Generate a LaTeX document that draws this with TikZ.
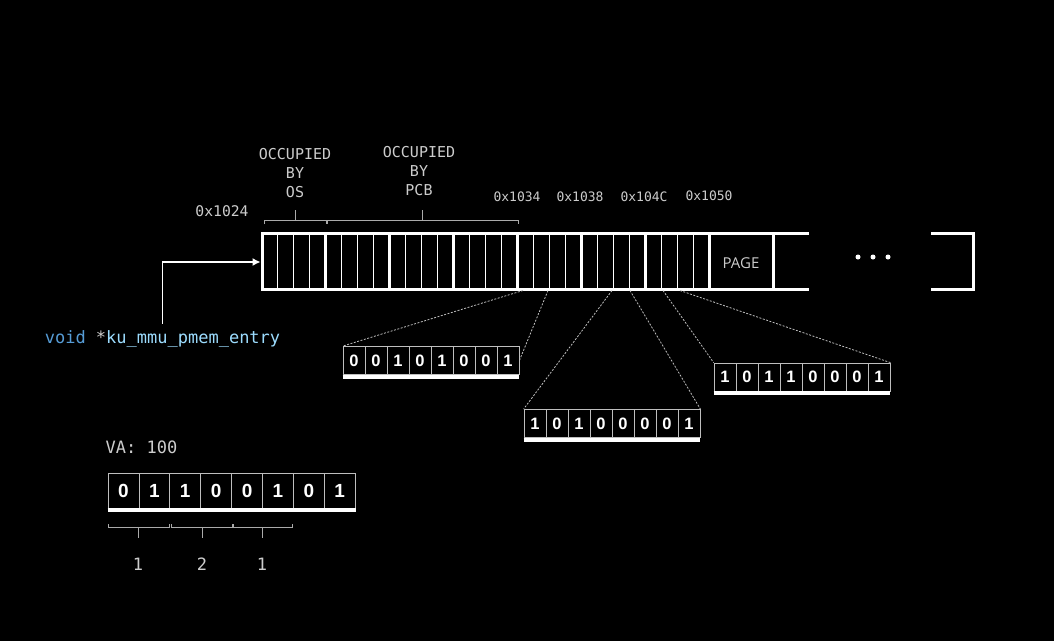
\documentclass[tikz,border=0pt]{standalone}
\usepackage{fontspec}
\setmainfont{DejaVu Sans}
\setmonofont{DejaVu Sans Mono}
\setsansfont{Liberation Sans}
\newfontfamily\pagefont{Open Sans}
\usetikzlibrary{arrows.meta}
\definecolor{labelgray}{RGB}{204,204,204}
\definecolor{kwblue}{RGB}{86,156,214}
\definecolor{varblue}{RGB}{156,220,254}
\definecolor{cellgray}{RGB}{190,190,190}
\definecolor{bracegray}{RGB}{170,170,170}

\begin{document}
\begin{tikzpicture}[x=1pt,y=-1pt,
  addr/.style={text=labelgray,inner sep=0pt,font=\fontsize{13}{15}\selectfont\ttfamily},
  occ/.style={text=labelgray,inner sep=0pt,align=center,font=\fontsize{15}{19}\selectfont\ttfamily},
  bitcell/.style={draw=cellgray,line width=0.8pt,minimum width=22pt,minimum height=28pt,inner sep=0pt,text=white,font=\fontsize{16.5}{18}\selectfont\sffamily\bfseries},
  vacell/.style={bitcell,minimum width=30.9pt,minimum height=35pt,font=\fontsize{19}{21}\selectfont\sffamily\bfseries},
  underline/.style={white,line width=4pt},
  memline/.style={white,line width=3pt},
  cellline/.style={white,line width=1pt},
  zoomline/.style={dashed,dash pattern=on 2pt off 1.5pt,draw=cellgray,line width=0.8pt},
  bracket/.style={draw=bracegray,line width=0.9pt}]
 \fill[black] (0,0) rectangle (1054,641);
 % memory strip
 \draw[memline] (809,233) -- (262,233) -- (262,289) -- (809,289);
 \foreach \g in {1,...,8}
  \draw[memline] ({262+63.9*\g},233) -- ({262+63.9*\g},289);
 \foreach \g in {0,...,6}
  \foreach \c in {1,2,3}
   \draw[cellline] ({262+63.9*\g+15.975*\c},234) -- ({262+63.9*\g+15.975*\c},288);
 \draw[memline] (931,233) -- (973,233) -- (973,289) -- (931,289);
 \foreach \x in {858,873,888}
  \fill[white] (\x,257) circle (2.5pt);
 \node[text=labelgray,font=\fontsize{15}{18}\selectfont\pagefont] (page) at (741,263) {PAGE};
 % labels above
 \node[occ] (os) at (295,173) {OCCUPIED\\BY\\OS};
 \node[occ] (pcb) at (419,171) {OCCUPIED\\BY\\PCB};
 \draw[bracket] (264,224) -- (264,220) -- (326,220) -- (326,224) (295,220) -- (295,210);
 \draw[bracket] (327,224) -- (327,220) -- (518,220) -- (518,224) (422,220) -- (422,210);
 \node[addr,font=\fontsize{14.7}{17}\selectfont\ttfamily] (a1024) at (222,211) {0x1024};
 \node[addr] (a1034) at (517,197) {0x1034};
 \node[addr] (a1038) at (580,197) {0x1038};
 \node[addr] (a104c) at (644,197) {0x104C};
 \node[addr] (a1050) at (709,196) {0x1050};
 % pointer
 \node[inner sep=1pt,outer ysep=6pt,font=\fontsize{17}{20}\selectfont\ttfamily] (ptr) at (162.5,339)
  {\textcolor{kwblue}{void} \textcolor{labelgray}{*}\textcolor{varblue}{ku\_mmu\_pmem\_entry}};
 \coordinate (memin) at (260.5,262);
 \draw[white,line width=1.2pt,-{Latex[length=8pt,width=8pt]}] (ptr.north) |- (memin);
 % expanded words
 \foreach \n/\x/\y/\bits in {wA/343/360.5/{0,0,1,0,1,0,0,1},wB/524/423.5/{1,0,1,0,0,0,0,1},wC/714/377/{1,0,1,1,0,0,0,1}} {
  \foreach \b [count=\i] in \bits
   \node[bitcell] (\n-\i) at ({\x+22*\i-11},\y) {\b};
  \draw[underline] ([yshift=-2pt]\n-1.south west) -- ([yshift=-2pt]\n-8.south east);
 }
 \coordinate (t1) at (523,290.5);
 \coordinate (t2) at (548,290.5);
 \coordinate (t3) at (612,290.5);
 \coordinate (t4) at (630,290.5);
 \coordinate (t5) at (663,290.5);
 \coordinate (t6) at (680,290.5);
 \draw[zoomline] (t1) -- (wA-1.north west);
 \draw[zoomline] (t2) -- (wA-8.east);
 \draw[zoomline] (t3) -- (wB-1.north west);
 \draw[zoomline] (t4) -- (wB-8.north east);
 \draw[zoomline] (t5) -- (wC-1.north west);
 \draw[zoomline] (t6) -- (wC-8.north east);
 % virtual address
 \node[addr,font=\fontsize{17}{20}\selectfont\ttfamily] (va) at (141.5,447) {VA: 100};
 \foreach \b [count=\i] in {0,1,1,0,0,1,0,1}
  \node[vacell] (va-\i) at ({108+30.9*\i-15.45},490.5) {\b};
 \draw[underline] ([yshift=-2pt]va-1.south west) -- ([yshift=-2pt]va-8.south east);
 \foreach \l/\r/\m/\v in {108/169/138/1,171/232/202/2,233/292/262/1} {
  \draw[bracket] (\l,524) -- (\l,527) -- (\r,527) -- (\r,524) (\m,527) -- (\m,538);
  \node[addr,font=\fontsize{17}{20}\selectfont\ttfamily] (idx-\m) at (\m,564) {\v};
 }
\end{tikzpicture}
\end{document}
